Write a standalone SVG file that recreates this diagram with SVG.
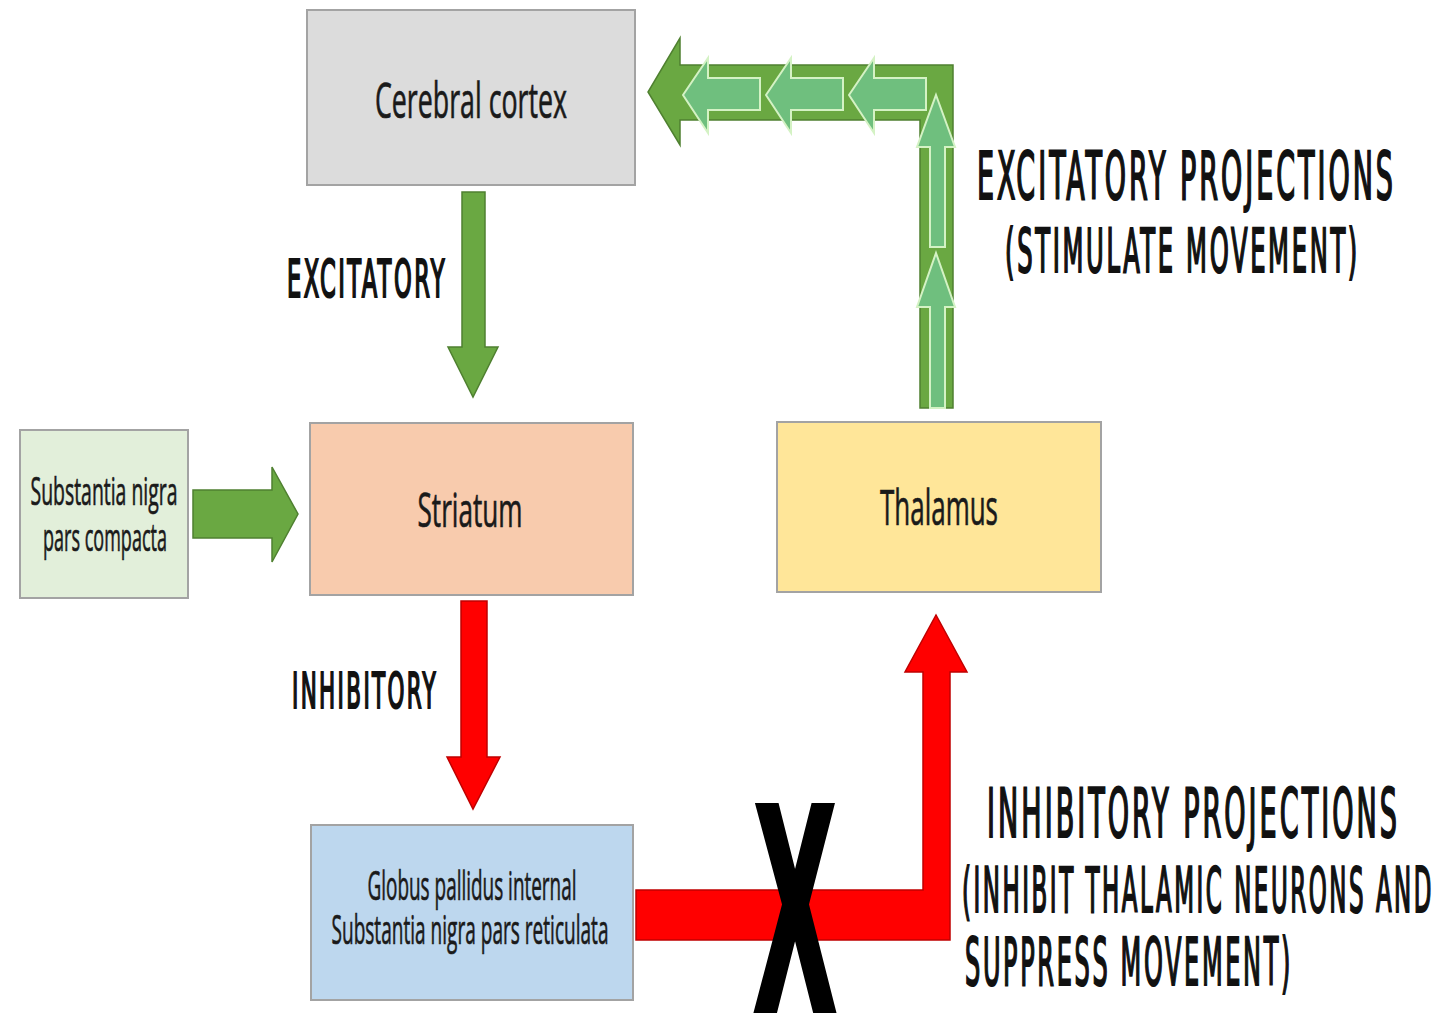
<svg xmlns="http://www.w3.org/2000/svg" width="1442" height="1013" viewBox="0 0 1442 1013">
<style>
.box{stroke:#a3a3a3;stroke-width:2}
.bt{font-family:"Open Sans","Noto Sans","DejaVu Sans",sans-serif;fill:#1a1a1a;stroke:#1a1a1a;stroke-width:0.7;text-anchor:middle}
.lbl{font-family:"DejaVu Sans","Liberation Sans",sans-serif;font-stretch:condensed;font-weight:normal;fill:#111;stroke:#111;stroke-width:2.2;letter-spacing:0.1em}
.g{fill:#6aa842;stroke:#4f8030;stroke-width:1.5}
.gi{fill:#6fbf7e;stroke:#d4f2c4;stroke-width:2}
.r{fill:#ff0000;stroke:#c00000;stroke-width:1.5}
</style>
<rect width="1442" height="1013" fill="#ffffff"/>

<g id="cortex">
<rect class="box" x="307" y="10" width="328" height="175" fill="#dcdcdc"/>
<text class="bt" x="471" y="118" font-size="50" textLength="192" lengthAdjust="spacingAndGlyphs">Cerebral cortex</text>
</g>
<g id="striatum">
<rect class="box" x="310" y="423" width="323" height="172" fill="#f8cbad"/>
<text class="bt" x="470" y="527" font-size="48" textLength="105" lengthAdjust="spacingAndGlyphs">Striatum</text>
</g>
<g id="thalamus">
<rect class="box" x="777" y="422" width="324" height="170" fill="#ffe699"/>
<text class="bt" x="939" y="525" font-size="50" textLength="118" lengthAdjust="spacingAndGlyphs">Thalamus</text>
</g>
<g id="gpi">
<rect class="box" x="311" y="825" width="322" height="175" fill="#bdd7ee"/>
<text class="bt" x="472" y="900" font-size="41" textLength="209" lengthAdjust="spacingAndGlyphs">Globus pallidus internal</text>
<text class="bt" x="470" y="944" font-size="41" textLength="277" lengthAdjust="spacingAndGlyphs">Substantia nigra pars reticulata</text>
</g>
<g id="snc">
<rect class="box" x="20" y="430" width="168" height="168" fill="#e2efda"/>
<text class="bt" x="104" y="505" font-size="39" textLength="147" lengthAdjust="spacingAndGlyphs">Substantia nigra</text>
<text class="bt" x="105" y="551" font-size="39" textLength="124" lengthAdjust="spacingAndGlyphs">pars compacta</text>
</g>

<g id="connectors">
<polygon class="g" points="462,192 485,192 485,347 498,347 473,397 448,347 462,347"/>
<polygon class="g" points="193,490 272,490 272,467 298,514 272,562 272,538 193,538"/>
<polygon class="r" points="461,601 487,601 487,757 500,757 473,809 447,757 461,757"/>
<polygon class="r" points="636,890 923,890 923,672 905,672 936,615 967,672 950,672 950,940 636,940"/>
<g id="excitatory-projection">
<polygon class="g" points="953,65 953,408 920,408 920,120 680,120 680,145 648,92 680,38 680,65"/>
<polygon class="gi" points="683,95 708,58 708,78 760,78 760,110 708,110 708,133"/>
<polygon class="gi" points="766,95 791,58 791,78 843,78 843,110 791,110 791,133"/>
<polygon class="gi" points="849,95 874,58 874,78 926,78 926,110 874,110 874,133"/>
<polygon class="gi" points="936,95 955,147 945,147 945,247 930,247 930,147 917,147"/>
<polygon class="gi" points="936,253 955,307 945,307 945,408 930,408 930,307 917,307"/>
</g>
</g>

<g id="labels">
<text class="lbl" x="287" y="297" font-size="51" textLength="160" lengthAdjust="spacingAndGlyphs">EXCITATORY</text>
<text class="lbl" x="292" y="708" font-size="50" textLength="146" lengthAdjust="spacingAndGlyphs">INHIBITORY</text>
<text class="lbl" x="977" y="199" font-size="66" textLength="419" lengthAdjust="spacingAndGlyphs">EXCITATORY PROJECTIONS</text>
<text class="lbl" x="1005" y="272" font-size="60" textLength="355" lengthAdjust="spacingAndGlyphs">(STIMULATE MOVEMENT)</text>
<text class="lbl" x="987" y="837" font-size="68" textLength="413" lengthAdjust="spacingAndGlyphs">INHIBITORY PROJECTIONS</text>
<text class="lbl" x="962" y="912" font-size="62" textLength="472" lengthAdjust="spacingAndGlyphs">(INHIBIT THALAMIC NEURONS AND</text>
<text class="lbl" x="965" y="985" font-size="66" textLength="328" lengthAdjust="spacingAndGlyphs">SUPPRESS MOVEMENT)</text>
</g>

<g id="block-mark">
<text x="0" y="0" transform="translate(795,1010) scale(0.4,1)" font-family="Liberation Sans, Arial, sans-serif" font-weight="bold" font-size="292" text-anchor="middle" fill="#000" stroke="#000" stroke-width="12">X</text>
</g>
</svg>
